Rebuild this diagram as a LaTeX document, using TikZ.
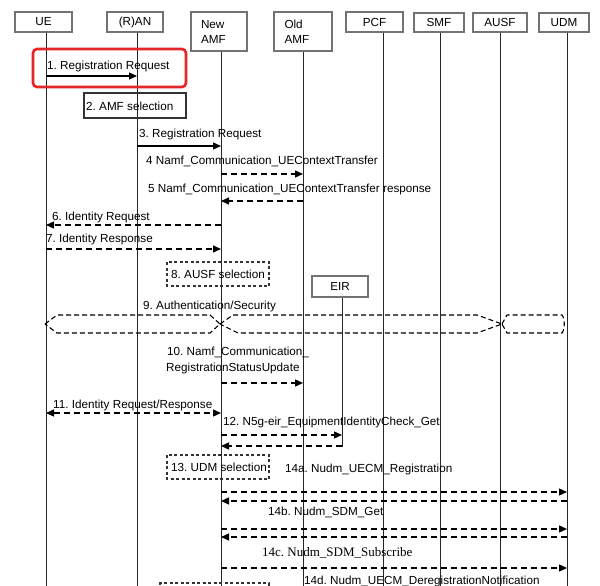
\documentclass[tikz,border=0pt]{standalone}
\usepackage{fontspec}
\setmainfont{Liberation Sans}
\newfontfamily\serifx{Liberation Serif}
\usetikzlibrary{arrows.meta}
\definecolor{hlred}{RGB}{228,38,38}
\frenchspacing
\begin{document}
\begin{tikzpicture}[x=1pt,y=-1pt,
  every node/.style={font=\fontsize{11.7}{15}\selectfont},
  hdr/.style={draw=black!55, line width=1.2pt, inner sep=0pt, minimum height=20pt},
  hdrtwo/.style={draw=black!55, line width=1.2pt, inner xsep=10pt, inner ysep=0pt, minimum height=39pt, align=left, text width=36pt},
  life/.style={draw=black!85, line width=1pt},
  lbl/.style={anchor=west, inner sep=0pt},
  msg/.style={line width=1.3pt, -{Triangle[length=8pt,width=7pt]}},
  dmsg/.style={msg, dash pattern=on 6pt off 4pt},
  dbl/.style={line width=1.3pt, dash pattern=on 6pt off 4pt, {Triangle[length=8pt,width=7pt]}-{Triangle[length=8pt,width=7pt]}},
  hexa/.style={line width=1.1pt, dash pattern=on 5pt off 3pt, line join=miter},
  selbox/.style={draw=black!80, line width=1.1pt, inner sep=0pt},
  dselbox/.style={draw=black!80, line width=1.1pt, dash pattern=on 3pt off 2.5pt},
  hlbox/.style={draw=hlred, line width=2.6pt, rounded corners=4pt, inner sep=0pt}
]
\useasboundingbox (0,0) rectangle (600,586);
\fill[white] (0,0) rectangle (600,586);

% lifeline x positions
\def\xUE{46}\def\xRAN{137}\def\xNA{221}\def\xOA{303}\def\xEIR{342}
\def\xPCF{383}\def\xSMF{440}\def\xAUSF{500}\def\xUDM{567}

% header boxes
\node[hdr, minimum width=57pt] (ue) at (43.5,22) {UE};
\node[hdr, minimum width=56pt] (ran) at (135,22) {(R)AN};
\node[hdrtwo] (namf) at (219,31.5) {New\\AMF};
\node[hdrtwo, minimum width=58pt, text width=37pt] (oamf) at (303,31.5) {Old\\AMF};
\node[hdr, minimum width=57pt] (pcf) at (374.5,22) {PCF};
\node[hdr, minimum width=50pt, minimum height=19pt] (smf) at (439,22.5) {SMF};
\node[hdr, minimum width=54pt, minimum height=19pt] (ausf) at (500,22.5) {AUSF};
\node[hdr, minimum width=50pt, minimum height=19pt] (udm) at (564,22.5) {UDM};
\node[hdr, minimum width=56pt, minimum height=21pt] (eir) at (340,286.5) {EIR};

% lifeline ends
\coordinate (ueB) at (\xUE,586);
\coordinate (ranB) at (\xRAN,586);
\coordinate (namfB) at (\xNA,586);
\coordinate (oamfB) at (\xOA,586);
\coordinate (pcfB) at (\xPCF,586);
\coordinate (smfB) at (\xSMF,586);
\coordinate (ausfB) at (\xAUSF,586);
\coordinate (udmB) at (\xUDM,586);
\coordinate (eirB) at (\xEIR,447);

\draw[life] (ue.south -| ueB) -- (ueB);
\draw[life] (ran.south -| ranB) -- (ranB);
\draw[life] (namf.south -| namfB) -- (namfB);
\draw[life] (oamf.south -| oamfB) -- (oamfB);
\draw[life] (pcf.south -| pcfB) -- (pcfB);
\draw[life] (smf.south -| smfB) -- (smfB);
\draw[life] (ausf.south -| ausfB) -- (ausfB);
\draw[life] (udm.south -| udmB) -- (udmB);
\draw[life] (eir.south -| eirB) -- (eirB);

% 1
\node[hlbox, minimum width=153pt, minimum height=38pt] (hl) at (109.5,68) {};
\node[lbl] (t1) at (47,66) {1. Registration Request};
\coordinate (m1s) at (\xUE,76); \coordinate (m1e) at (\xRAN,76);
\draw[msg] (m1s) -- (m1e);

% 2
\node[selbox, minimum width=102pt, minimum height=25pt] (b2) at (135,105.5) {};
\node[lbl] (t2) at (86,106) {2. AMF selection};

% 3
\node[lbl] (t3) at (139,134) {3. Registration Request};
\coordinate (m3s) at (\xRAN,146); \coordinate (m3e) at (\xNA,146);
\draw[msg] (m3s) -- (m3e);

% 4
\node[lbl] (t4) at (146,161) {4 Namf\_Communication\_UEContextTransfer};
\coordinate (m4s) at (\xNA,174); \coordinate (m4e) at (\xOA,174);
\draw[dmsg] (m4s) -- (m4e);

% 5
\node[lbl] (t5) at (148,189) {5 Namf\_Communication\_UEContextTransfer response};
\coordinate (m5s) at (\xOA,201); \coordinate (m5e) at (\xNA,201);
\draw[dmsg] (m5s) -- (m5e);

% 6
\node[lbl] (t6) at (52,217) {6. Identity Request};
\coordinate (m6s) at (\xNA,225); \coordinate (m6e) at (\xUE,225);
\draw[dmsg] (m6s) -- (m6e);

% 7
\node[lbl] (t7) at (46,239) {7. Identity Response};
\coordinate (m7s) at (\xUE,249); \coordinate (m7e) at (\xNA,249);
\draw[dmsg] (m7s) -- (m7e);

% 8
\draw[dselbox] (167,262) rectangle (269,286);
\node[lbl] (t8) at (171,274) {8. AUSF selection};

% 9
\node[lbl] (t9) at (143,306) {9. Authentication/Security};
\draw[hexa] (45,324) -- (57,315) -- (210,315) -- (220,324) -- (210,333) -- (57,333) -- cycle;
\draw[hexa] (220,324) -- (233,315) -- (477,315) -- (502,324) -- (477,333) -- (238,333) -- cycle;
\draw[hexa] (502,324) -- (507,315) -- (562,315) .. controls (565,318) and (565,330) .. (562,333) -- (507,333) -- cycle;

% 10
\node[lbl] (t10a) at (167,352) {10. Namf\_Communication\_};
\node[lbl] (t10b) at (166,368) {RegistrationStatusUpdate};
\coordinate (m10s) at (\xNA,383); \coordinate (m10e) at (\xOA,383);
\draw[dmsg] (m10s) -- (m10e);

% 11
\node[lbl] (t11) at (53,405) {11. Identity Request/Response};
\coordinate (m11s) at (\xUE,413); \coordinate (m11e) at (\xNA,413);
\draw[dbl] (m11s) -- (m11e);

% 12
\node[lbl] (t12) at (223,422) {12. N5g-eir\_EquipmentIdentityCheck\_Get};
\coordinate (m12s) at (\xNA,435); \coordinate (m12e) at (\xEIR,435);
\draw[dmsg] (m12s) -- (m12e);
\coordinate (m12rs) at (\xEIR,446); \coordinate (m12re) at (\xNA,446);
\draw[dmsg] (m12rs) -- (m12re);

% 13
\draw[dselbox] (167,455) rectangle (269,479);
\node[lbl] (t13) at (171,467) {13. UDM selection};

% 14a
\node[lbl] (t14a) at (285,469) {14a. Nudm\_UECM\_Registration};
\coordinate (m14as) at (\xNA,492); \coordinate (m14ae) at (\xUDM,492);
\draw[dmsg] (m14as) -- (m14ae);
\coordinate (m14ars) at (\xUDM,501); \coordinate (m14are) at (\xNA,501);
\draw[dmsg] (m14ars) -- (m14are);

% 14b
\node[lbl] (t14b) at (268,512) {14b. Nudm\_SDM\_Get};
\coordinate (m14bs) at (\xNA,529); \coordinate (m14be) at (\xUDM,529);
\draw[dmsg] (m14bs) -- (m14be);
\coordinate (m14brs) at (\xUDM,537); \coordinate (m14bre) at (\xNA,537);
\draw[dmsg] (m14brs) -- (m14bre);

% 14c
\node[lbl, font=\serifx\fontsize{13}{15}\selectfont] (t14c) at (262,553) {14c. Nudm\_SDM\_Subscribe};
\coordinate (m14cs) at (\xNA,568); \coordinate (m14ce) at (\xUDM,568);
\draw[dmsg] (m14cs) -- (m14ce);

% 14d
\node[lbl] (t14d) at (304,581) {14d. Nudm\_UECM\_DeregistrationNotification};
\draw[dselbox] (160,590) -- (160,583) -- (269,583) -- (269,590);

\end{tikzpicture}
\end{document}
